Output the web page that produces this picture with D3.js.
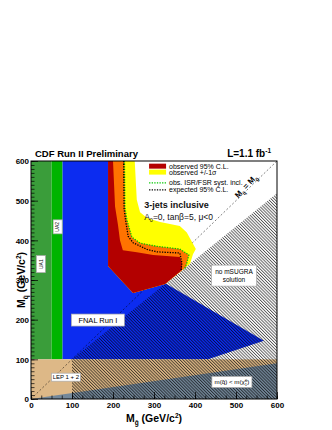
<!DOCTYPE html>
<html>
<head>
<meta charset="utf-8">
<script src="https://cdn.jsdelivr.net/npm/d3@7"></script>
<style>
  body { margin: 0; background: #fff; }
  text { font-family: "Liberation Sans", Arial, sans-serif; }
</style>
</head>
<body>
<div id="chart"></div>
<script>
// axis ticks (GeV/c^2)
var xTicks = [0, 100, 200, 300, 400, 500, 600];
var yTicks = [0, 100, 200, 300, 400, 500, 600];

// old limits
var ua1Gluino = [0, 50];
var ua2Gluino = [50, 77];
var uaSquarkMin = 100;
var lepSquark = 100;
var fnalRun1 = [[77,100],[77,600],[192,600],[192,360],[255,292],[327,292],[568,147],[432,100]];
var noSugraEdge = [[100,100],[600,519]];
var chiEdge = [[0,0],[600,90]];
var diagonal = [[0,0],[600,600]];

// CDF Run II limits, outer edge of each band
var obsPlus = [[253,600],[258,502],[266,471],[283,456],[315,446],[363,436],[380,420],[393,395],[402,378],[395,365],[388,341]];
var obsMinus = [[228,600],[229,484],[234,451],[246,408],[266,393],[307,385],[363,378],[385,363],[380,343],[378,333]];
var observed = [[200,600],[205,485],[212,440],[217,400],[224,375],[258,370],[298,363],[363,358],[368,343],[368,325]];
var bandInner = [[327,290],[249,267],[188,335],[188,600]];
var isrFsr = [[228,600],[229,484],[234,451],[246,408],[266,393],[307,385],[363,378],[385,363],[380,343],[374,326]];
var expected = [[226,600],[227,480],[230,455],[237,410],[249,394],[283,377],[307,371],[363,368],[368,343],[366,323]];

var svgW = 332, svgH = 430;
var svg = d3.select('#chart').append('svg')
    .attr('width', svgW)
    .attr('height', svgH);

var x = d3.scaleLinear().domain([0, 600]).range([31, 277]);
var y = d3.scaleLinear().domain([0, 600]).range([399, 161]);

var defs = svg.append('defs');
defs.append('clipPath').attr('id', 'frame')
  .append('rect')
    .attr('x', x(0)).attr('y', y(600))
    .attr('width', x(600) - x(0)).attr('height', y(0) - y(600));
var hatch = defs.append('pattern')
    .attr('id', 'hatch')
    .attr('patternUnits', 'userSpaceOnUse')
    .attr('width', 2.2).attr('height', 2.2)
    .attr('patternTransform', 'rotate(-45)');
hatch.append('line')
    .attr('x1', 0.5).attr('y1', -1).attr('x2', 0.5).attr('y2', 4)
    .attr('stroke', '#000').attr('stroke-width', 0.6);

var line = d3.line().x(d => x(d[0])).y(d => y(d[1]));
var poly = pts => line(pts) + 'Z';

var plot = svg.append('g').attr('clip-path', 'url(#frame)');

// UA1 / UA2
plot.append('rect')
    .attr('x', x(ua1Gluino[0])).attr('y', y(600))
    .attr('width', x(ua1Gluino[1]) - x(ua1Gluino[0]))
    .attr('height', y(uaSquarkMin) - y(600))
    .attr('fill', '#3a9d3a');
plot.append('rect')
    .attr('x', x(ua2Gluino[0])).attr('y', y(600))
    .attr('width', x(ua2Gluino[1]) - x(ua2Gluino[0]))
    .attr('height', y(uaSquarkMin) - y(600))
    .attr('fill', '#00b400');

// FNAL Run I
plot.append('path').attr('d', poly(fnalRun1)).attr('fill', '#0c2cf0');

// LEP
plot.append('rect')
    .attr('x', x(0)).attr('y', y(lepSquark))
    .attr('width', x(600) - x(0)).attr('height', y(0) - y(lepSquark))
    .attr('fill', '#ddb887');
plot.append('path')
    .attr('d', poly([chiEdge[0], chiEdge[1], [600, 0]]))
    .attr('fill', '#74889a');

// no mSUGRA solution hatch
plot.append('path')
    .attr('d', poly([[100, 0], noSugraEdge[0], noSugraEdge[1], [600, 0]]))
    .attr('fill', 'url(#hatch)');

// M_q = M_g
plot.append('path')
    .attr('d', line(diagonal))
    .attr('fill', 'none')
    .attr('stroke', '#000')
    .attr('stroke-width', 0.5)
    .attr('stroke-dasharray', '2,2');

// Run II bands
plot.append('path').attr('d', poly(obsPlus.concat(bandInner))).attr('fill', '#ffff00');
plot.append('path').attr('d', poly(obsMinus.concat(bandInner))).attr('fill', '#ff7300');
plot.append('path').attr('d', poly(observed.concat(bandInner))).attr('fill', '#b30000');
plot.append('path').attr('d', line(isrFsr))
    .attr('fill', 'none').attr('stroke', '#00c800')
    .attr('stroke-width', 1.3).attr('stroke-dasharray', '1.3,1.3');
plot.append('path').attr('d', line(expected))
    .attr('fill', 'none').attr('stroke', '#000')
    .attr('stroke-width', 1.3).attr('stroke-dasharray', '1.3,1.3');

// axes, ticks inside the frame
function minors(step) { return d3.range(0, 600 + 0.1, step); }
var xAxis = svg.append('g').attr('transform', `translate(0,${y(0)})`)
    .call(d3.axisBottom(x).tickValues(xTicks).tickSizeInner(-7).tickSizeOuter(0).tickPadding(3));
svg.append('g').attr('transform', `translate(0,${y(0)})`)
    .call(d3.axisBottom(x).tickValues(minors(25)).tickSize(-3.5).tickFormat(''));
var yAxis = svg.append('g').attr('transform', `translate(${x(0)},0)`)
    .call(d3.axisLeft(y).tickValues(yTicks).tickSizeInner(-7).tickSizeOuter(0).tickPadding(9));
svg.append('g').attr('transform', `translate(${x(0)},0)`)
    .call(d3.axisLeft(y).tickValues(minors(10)).tickSize(-3.5).tickFormat(''));
svg.selectAll('.domain').remove();
svg.selectAll('.tick text')
    .attr('font-family', '"Liberation Sans", Arial, sans-serif')
    .attr('font-size', 8).attr('font-weight', 'bold').attr('fill', '#000');
yAxis.selectAll('.tick text').attr('dx', 7).attr('dy', '0.35em');
svg.selectAll('.tick line').attr('stroke', '#000').attr('stroke-width', 0.7);

svg.append('rect')
    .attr('x', x(0)).attr('y', y(600))
    .attr('width', x(600) - x(0)).attr('height', y(0) - y(600))
    .attr('fill', 'none').attr('stroke', '#000').attr('stroke-width', 1);

// boxed labels
function box(cx, cy, w, h, lines, size, rot) {
  var g = svg.append('g')
      .attr('transform', `translate(${x(cx)},${y(cy)}) rotate(${rot || 0})`);
  g.append('rect')
      .attr('x', -w / 2).attr('y', -h / 2).attr('width', w).attr('height', h)
      .attr('fill', '#fff').attr('stroke', '#aaa').attr('stroke-width', 0.7);
  lines.forEach(function (t, i) {
    g.append('text')
        .attr('text-anchor', 'middle')
        .attr('y', (i - (lines.length - 1) / 2) * size * 1.35 + size * 0.36)
        .attr('font-size', size)
        .text(t);
  });
  return g;
}
box(24, 340, 17, 9, ['UA1'], 5, -90);
box(65, 434, 14, 9, ['UA2'], 5, -90);
box(163, 199, 53, 12, ['FNAL Run I'], 7.5);
box(85, 55, 29, 8, ['LEP 1 + 2'], 6);
box(495, 311, 45, 21, ['no mSUGRA', 'solution'], 6.5);

var chiBox = svg.append('g').attr('transform', `translate(${x(490)},${y(43)})`);
chiBox.append('rect')
    .attr('x', -20).attr('y', -5.5).attr('width', 40).attr('height', 11)
    .attr('fill', '#fff').attr('stroke', '#aaa').attr('stroke-width', 0.7);
var chiText = chiBox.append('text').attr('text-anchor', 'middle').attr('y', 2.2).attr('font-size', 6.2);
chiText.append('tspan').text('m(q\u0303) < m(\u03c7\u0303');
chiText.append('tspan').attr('font-size', 4).attr('dy', 1.5).text('1');
chiText.append('tspan').attr('font-size', 4).attr('dx', -2).attr('dy', -4).text('0');
chiText.append('tspan').attr('dy', 2.5).text(')');

// M_q = M_g label along the diagonal
var diagText = svg.append('text')
    .attr('transform', `translate(${x(529)},${y(532)}) rotate(-47)`)
    .attr('text-anchor', 'middle').attr('font-size', 8).attr('font-weight', 'bold');
diagText.append('tspan').text('M');
diagText.append('tspan').attr('font-size', 5).attr('dy', 2.5).text('q\u0303');
diagText.append('tspan').attr('dy', -2.5).text(' = M');
diagText.append('tspan').attr('font-size', 5).attr('dy', 2.5).text('g\u0303');

// titles
svg.append('text').attr('x', 35).attr('y', 157)
    .attr('font-size', 9.5).attr('font-weight', 'bold')
    .text('CDF Run II Preliminary');
var lumi = svg.append('text').attr('x', 271).attr('y', 157)
    .attr('text-anchor', 'end').attr('font-size', 10).attr('font-weight', 'bold');
lumi.append('tspan').text('L=1.1 fb');
lumi.append('tspan').attr('font-size', 6.5).attr('dy', -4).text('-1');

var xl = svg.append('text')
    .attr('x', (x(0) + x(600)) / 2).attr('y', 422)
    .attr('text-anchor', 'middle').attr('font-size', 10.5).attr('font-weight', 'bold');
xl.append('tspan').text('M');
xl.append('tspan').attr('font-size', 6.5).attr('dy', 3).text('g\u0303');
xl.append('tspan').attr('dy', -3).text(' (GeV/c');
xl.append('tspan').attr('font-size', 6.5).attr('dy', -4).text('2');
xl.append('tspan').attr('dy', 4).text(')');

var yl = svg.append('text')
    .attr('transform', `translate(25,${(y(0) + y(600)) / 2}) rotate(-90)`)
    .attr('text-anchor', 'middle').attr('font-size', 10.5).attr('font-weight', 'bold');
yl.append('tspan').text('M');
yl.append('tspan').attr('font-size', 6.5).attr('dy', 3).text('q\u0303');
yl.append('tspan').attr('dy', -3).text(' (GeV/c');
yl.append('tspan').attr('font-size', 6.5).attr('dy', -4).text('2');
yl.append('tspan').attr('dy', 4).text(')');

// legend
var legendItems = [
  {label: 'observed 95% C.L.', kind: 'fill', color: '#b30000'},
  {label: 'observed +/-1\u03c3', kind: 'fill', color: '#ffff00'},
  {label: 'obs. ISR/FSR syst. incl.', kind: 'dot', color: '#00c800'},
  {label: 'expected 95% C.L.', kind: 'dot', color: '#000'}
];
var legendY = [587, 572, 545, 527];
var leg = svg.append('g');
legendItems.forEach(function (d, i) {
  var ly = y(legendY[i]);
  if (d.kind == 'fill') {
    leg.append('rect').attr('x', x(288)).attr('y', ly - 2.5)
        .attr('width', 17).attr('height', 5).attr('fill', d.color);
  } else {
    leg.append('line').attr('x1', x(288)).attr('x2', x(288) + 17)
        .attr('y1', ly).attr('y2', ly)
        .attr('stroke', d.color).attr('stroke-width', 1.3).attr('stroke-dasharray', '1.3,1.3');
  }
  leg.append('text').attr('x', x(288) + 20).attr('y', ly + 2.5)
      .attr('font-size', 7).text(d.label);
});

var info = svg.append('g');
info.append('text').attr('x', x(276)).attr('y', y(481))
    .attr('font-size', 9).attr('font-weight', 'bold').attr('fill', '#111')
    .text('3-jets inclusive');
var a0 = info.append('text').attr('x', x(276)).attr('y', y(451))
    .attr('font-size', 8.5).attr('fill', '#111');
a0.append('tspan').text('A');
a0.append('tspan').attr('font-size', 5.5).attr('dy', 2).text('0');
a0.append('tspan').attr('dy', -2).text('=0, tan\u03b2=5, \u03bc<0');
</script>
</body>
</html>
